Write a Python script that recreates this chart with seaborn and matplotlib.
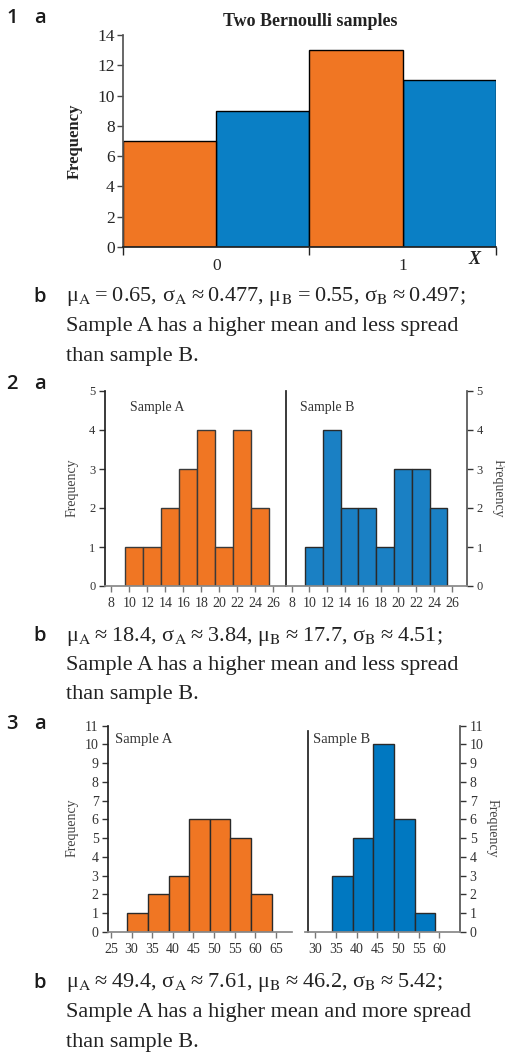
import numpy as np
import pandas as pd
import seaborn as sns
import matplotlib.pyplot as plt

sns.set_theme(style='ticks')
plt.rcParams['font.family'] = ['Liberation Serif', 'DejaVu Serif']
plt.rcParams['mathtext.fontset'] = 'stix'

W, H = 506, 1052
fx = lambda x: x / W
fy = lambda y: 1 - y / H

orange = '#F07623'
blue = '#0A7FC5'

#==================================================================
# Data
# Q1: two Bernoulli samples (X = 0 or 1)
q1_x = [0, 1]
q1_countA = [7, 13]
q1_countB = [9, 11]

# Q2: grouped frequencies, class width 2
q2_edges = [9.5, 11.5, 13.5, 15.5, 17.5, 19.5, 21.5, 23.5, 25.5]
q2_countA = [1, 1, 2, 3, 4, 1, 4, 2]
q2_countB = [1, 4, 2, 2, 1, 3, 3, 2]
q2_xticks = [8, 10, 12, 14, 16, 18, 20, 22, 24, 26]

# Q3: grouped frequencies, class width 5
q3_edgesA = [29, 34, 39, 44, 49, 54, 59, 64]
q3_countA = [1, 2, 3, 6, 6, 5, 2]
q3_edgesB = [34, 39, 44, 49, 54, 59]
q3_countB = [3, 5, 10, 6, 1]
q3_xticksA = [25, 30, 35, 40, 45, 50, 55, 60, 65]
q3_xticksB = [30, 35, 40, 45, 50, 55, 60]

ts = '\u2009'
answer1 = [f'μ$_\\mathrm{{A}}${ts}={ts}0.65, σ$_\\mathrm{{A}}${ts}≈{ts}0.477, μ$_\\mathrm{{B}}${ts}={ts}0.55, σ$_\\mathrm{{B}}${ts}≈{ts}0.497;',
           'Sample A has a higher mean and less spread',
           'than sample B.']
answer2 = [f'μ$_\\mathrm{{A}}${ts}≈{ts}18.4, σ$_\\mathrm{{A}}${ts}≈{ts}3.84, μ$_\\mathrm{{B}}${ts}≈{ts}17.7, σ$_\\mathrm{{B}}${ts}≈{ts}4.51;',
           'Sample A has a higher mean and less spread',
           'than sample B.']
answer3 = [f'μ$_\\mathrm{{A}}${ts}≈{ts}49.4, σ$_\\mathrm{{A}}${ts}≈{ts}7.61, μ$_\\mathrm{{B}}${ts}≈{ts}46.2, σ$_\\mathrm{{B}}${ts}≈{ts}5.42;',
           'Sample A has a higher mean and more spread',
           'than sample B.']
#==================================================================

fig = plt.figure(figsize=(W / 100, H / 100), dpi=100)
fig.patch.set_facecolor('white')

def label(x, y, s):
    fig.text(fx(x), fy(y), s, ha='center', va='center', fontsize=14.5,
             family=['Open Sans', 'DejaVu Sans'], fontweight='semibold', color='#1a1a1a')

def body(y0, lines):
    for i, s in enumerate(lines):
        fig.text(fx(66), fy(y0 + i * 29.5), s, ha='left', va='center', fontsize=16, color='#222')

#------------------------------------------------------------------
# Q1
label(12, 18, '1')
label(40, 18, 'a')
ax1 = fig.add_axes([fx(123), fy(247), fx(496) - fx(123), fy(35) - fy(247)])
df1 = pd.DataFrame({'X': q1_x + q1_x,
                    'count': q1_countA + q1_countB,
                    'sample': ['A'] * len(q1_x) + ['B'] * len(q1_x)})
sns.histplot(data=df1, x='X', weights='count', hue='sample', multiple='dodge',
             bins=[-0.5, 0.5, 1.5], shrink=1, palette=[orange, blue], alpha=1,
             edgecolor='black', linewidth=1, legend=False, ax=ax1)
ax1.set_xlim(-0.5, 1.5)
ax1.set_ylim(0, 14)
ax1.set_yticks(range(0, 15, 2))
ax1.set_xticks([-0.5, 0.5, 1.5])
ax1.set_xticklabels([])
ax1.set_xticks([0, 1], minor=True)
ax1.set_xticklabels(['0', '1'], minor=True)
ax1.tick_params(axis='x', which='major', length=6, width=1, color='#222')
ax1.tick_params(axis='x', which='minor', length=0, pad=8, labelsize=12.5)
ax1.tick_params(axis='y', length=4, width=1, color='#444', labelsize=12.5, pad=2)
ax1.set_xlabel('')
ax1.set_ylabel('')
sns.despine(ax=ax1)
ax1.spines['left'].set_color('#555')
ax1.spines['bottom'].set_color('#222')
fig.text(fx(310), fy(22), 'Two Bernoulli samples', ha='center', va='center',
         fontsize=13, fontweight='bold', color='#222')
fig.text(fx(75), fy(141), 'Frequency', ha='center', va='center', rotation=90,
         fontsize=12, fontweight='bold', color='#222')
fig.text(fx(474), fy(259), 'X', ha='center', va='center', fontsize=13,
         fontweight='bold', style='italic', color='#222')

label(40, 297, 'b')
body(297, answer1)

#------------------------------------------------------------------
# Q2
label(12, 384, '2')
label(40, 384, 'a')
y_top, y_bot = 391, 586
ax2a = fig.add_axes([fx(105), fy(y_bot), fx(286) - fx(105), fy(y_top) - fy(y_bot)])
ax2b = fig.add_axes([fx(286), fy(y_bot), fx(467) - fx(286), fy(y_top) - fy(y_bot)])
centers2 = [(a + b) / 2 for a, b in zip(q2_edges[:-1], q2_edges[1:])]
sns.histplot(x=centers2, weights=q2_countA, bins=q2_edges, color=orange, alpha=1,
             edgecolor='#3a3a3a', linewidth=1, ax=ax2a)
sns.histplot(x=centers2, weights=q2_countB, bins=q2_edges, color='#1A80C4', alpha=1,
             edgecolor='#2a2a2a', linewidth=1, ax=ax2b)
ax2a.set_xlim(7.3, 27.4)
ax2b.set_xlim(7.36, 27.7)
for ax in (ax2a, ax2b):
    ax.set_ylim(0, 5)
    ax.set_yticks(range(0, 6))
    ax.set_xticks(q2_xticks)
    ax.set_xlabel('')
    ax.set_ylabel('')
    ax.tick_params(axis='x', length=4, width=1, color='#777', labelsize=10, pad=4,
                   labelcolor='#333')
    ax.tick_params(axis='y', length=4, width=1, color='#333', labelsize=9, pad=3,
                   labelcolor='#333')
    ax.spines['top'].set_visible(False)
    ax.spines['bottom'].set_color('#888')
    ax.spines['left'].set_color('#222')
ax2a.spines['right'].set_visible(False)
ax2b.yaxis.tick_right()
ax2b.spines['right'].set_color('#555')
fig.text(fx(130), fy(408), 'Sample A', ha='left', va='center', fontsize=10, color='#333')
fig.text(fx(300), fy(408), 'Sample B', ha='left', va='center', fontsize=10, color='#333')
fig.text(fx(72), fy(488), 'Frequency', ha='center', va='center', rotation=90,
         fontsize=10, color='#444')
fig.text(fx(498), fy(488), 'Frequency', ha='center', va='center', rotation=270,
         fontsize=10, color='#444')

label(40, 636, 'b')
body(636, answer2)

#------------------------------------------------------------------
# Q3
label(12, 724, '3')
label(40, 724, 'a')
y_top, y_bot = 725.7, 931.7
ax3a = fig.add_axes([fx(108.3), fy(y_bot), fx(292.3) - fx(108.3), fy(y_top) - fy(y_bot)])
ax3b = fig.add_axes([fx(305), fy(y_bot), fx(460) - fx(305), fy(y_top) - fy(y_bot)])
centers3A = [(a + b) / 2 for a, b in zip(q3_edgesA[:-1], q3_edgesA[1:])]
centers3B = [(a + b) / 2 for a, b in zip(q3_edgesB[:-1], q3_edgesB[1:])]
sns.histplot(x=centers3A, weights=q3_countA, bins=q3_edgesA, color=orange, alpha=1,
             edgecolor='#2a2a2a', linewidth=1, ax=ax3a)
sns.histplot(x=centers3B, weights=q3_countB, bins=q3_edgesB, color='#0078C1', alpha=1,
             edgecolor='#2a2a2a', linewidth=1, ax=ax3b)
ax3a.set_xlim(24.35, 69.0)
ax3b.set_xlim(27.5, 65.0)
ax3a.set_xticks(q3_xticksA)
ax3b.set_xticks(q3_xticksB)
for ax in (ax3a, ax3b):
    ax.set_ylim(0, 11)
    ax.set_yticks(range(0, 12))
    ax.set_xlabel('')
    ax.set_ylabel('')
    ax.tick_params(axis='x', length=4, width=1, color='#777', labelsize=10, pad=4,
                   labelcolor='#333')
    ax.tick_params(axis='y', length=4, width=1, color='#333', labelsize=10, pad=3,
                   labelcolor='#333')
    ax.spines['top'].set_visible(False)
    ax.spines['bottom'].set_color('#888')
    ax.spines['left'].set_color('#222')
ax3a.spines['right'].set_visible(False)
ax3b.yaxis.tick_right()
ax3b.spines['right'].set_color('#555')
ax3b.spines['left'].set_position(('data', 28.3))
ax3b.spines['left'].set_bounds(0, 10.7)
fig.text(fx(115), fy(740), 'Sample A', ha='left', va='center', fontsize=10.5, color='#333')
fig.text(fx(313), fy(740), 'Sample B', ha='left', va='center', fontsize=10.5, color='#333')
fig.text(fx(72), fy(828), 'Frequency', ha='center', va='center', rotation=90,
         fontsize=10, color='#444')
fig.text(fx(492), fy(828), 'Frequency', ha='center', va='center', rotation=270,
         fontsize=10, color='#444')

label(40, 983, 'b')
body(983, answer3)

fig.savefig('out.png', dpi=100)
